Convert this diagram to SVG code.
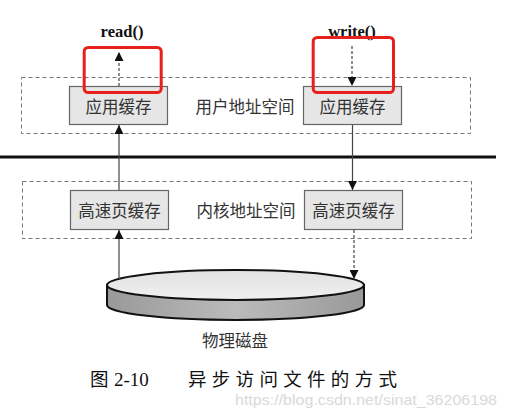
<svg xmlns="http://www.w3.org/2000/svg" width="506" height="416" viewBox="0 0 506 416">
<defs>
<style>
.cont{fill:none;stroke:#777;stroke-width:1;stroke-dasharray:4 3}
.box{fill:#e6e6e6;stroke:#666;stroke-width:1.2}
.lbl{font-family:"Noto Sans CJK SC","Noto Sans",sans-serif;font-size:16.5px;fill:#333;text-anchor:middle;dominant-baseline:central}
.fn{font-family:"Liberation Serif",serif;font-weight:bold;font-size:16.5px;fill:#111;text-anchor:middle}
.red{fill:none;stroke:#e8201c;stroke-width:3}
.solid{stroke:#444;stroke-width:1.2;fill:none}
.dash{stroke:#444;stroke-width:1.2;fill:none;stroke-dasharray:3 2}
.cap{font-family:"Noto Sans CJK SC",sans-serif;font-size:18.5px;fill:#111}
</style>
<marker id="ah" viewBox="0 0 10 10" refX="10" refY="5" markerWidth="9" markerHeight="9" markerUnits="userSpaceOnUse" orient="auto">
<path d="M0,0 L10,5 L0,10 Z" fill="#111"/>
</marker>
<linearGradient id="topg" x1="0" y1="0" x2="0" y2="1">
<stop offset="0" stop-color="#e2e2e2"/>
<stop offset="1" stop-color="#f0f0f0"/>
</linearGradient>
<linearGradient id="sideg" x1="0" y1="0" x2="1" y2="0">
<stop offset="0" stop-color="#999"/>
<stop offset="0.5" stop-color="#bbb"/>
<stop offset="1" stop-color="#999"/>
</linearGradient>
</defs>
<rect width="506" height="416" fill="#fff"/>

<g id="user-space">
<rect class="cont" x="21.5" y="77.5" width="449" height="56"/>
<text class="lbl" x="245" y="106" font-size="17">用户地址空间</text>
</g>
<g id="kernel-space">
<rect class="cont" x="22.5" y="181.5" width="449" height="57"/>
<text class="lbl" x="246" y="210">内核地址空间</text>
</g>

<line x1="0" y1="157" x2="496" y2="157" stroke="#111" stroke-width="3"/>

<g id="app-cache-left">
<rect class="box" x="69.5" y="86.5" width="98" height="38"/>
<text class="lbl" x="118.5" y="105.5">应用缓存</text>
</g>
<g id="app-cache-right">
<rect class="box" x="303.5" y="86.5" width="98" height="38"/>
<text class="lbl" x="352.5" y="105.5">应用缓存</text>
</g>
<g id="page-cache-left">
<rect class="box" x="70.5" y="190.5" width="98" height="39"/>
<text class="lbl" x="119.5" y="210">高速页缓存</text>
</g>
<g id="page-cache-right">
<rect class="box" x="304.5" y="190.5" width="98" height="39"/>
<text class="lbl" x="353.5" y="210">高速页缓存</text>
</g>

<g id="disk">
<path d="M107,285 L107,305 A128.5,15 0 0 0 364,305 L364,285 Z" fill="url(#sideg)" stroke="#111" stroke-width="2"/>
<ellipse cx="235.5" cy="285" rx="128.5" ry="15" fill="url(#topg)" stroke="#111" stroke-width="2"/>
<text class="lbl" x="235" y="340" font-size="16">物理磁盘</text>
</g>

<g id="read-label"><text class="fn" x="122" y="37">read()</text></g>
<g id="write-label"><text class="fn" x="352" y="37">write()</text></g>

<g id="connectors">
<line class="dash" x1="119" y1="86" x2="119" y2="52" marker-end="url(#ah)"/>
<line class="dash" x1="352" y1="46" x2="352" y2="86" marker-end="url(#ah)"/>
<line class="solid" x1="119" y1="190" x2="119" y2="125" marker-end="url(#ah)"/>
<line class="solid" x1="352.5" y1="125" x2="352.5" y2="190" marker-end="url(#ah)"/>
<line class="solid" x1="119" y1="279" x2="119" y2="230" marker-end="url(#ah)"/>
<line class="dash" x1="354" y1="230" x2="354" y2="279" marker-end="url(#ah)"/>
</g>

<g id="highlights">
<rect class="red" x="84.2" y="47.5" width="77" height="45" rx="4"/>
<rect class="red" x="313.2" y="37.5" width="80.3" height="55" rx="4"/>
</g>

<g id="caption">
<text class="cap" x="90" y="386">图</text>
<text x="114" y="386" font-family="'Liberation Serif',serif" font-size="19" fill="#111">2-10</text>
<text class="cap" x="188" y="386" textLength="209" lengthAdjust="spacing">异步访问文件的方式</text>
</g>
<text x="235" y="405" font-family="'Liberation Sans',sans-serif" font-size="14.5" fill="#d9d9d9" textLength="262" lengthAdjust="spacingAndGlyphs">https://blog.csdn.net/sinat_36206198</text>
</svg>
